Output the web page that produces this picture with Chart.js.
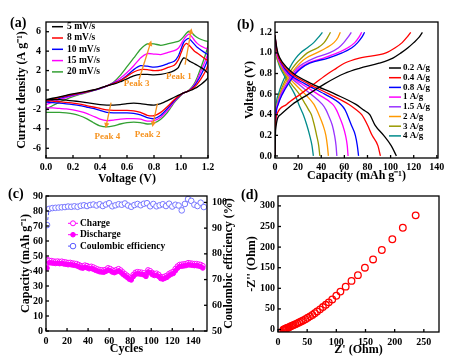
<!DOCTYPE html>
<html>
<head>
<meta charset="utf-8">
<title>Electrochemical performance</title>
<script src="https://cdn.jsdelivr.net/npm/chart.js@4.4.1/dist/chart.umd.min.js"></script>
<style>
  html, body { margin: 0; padding: 0; background: #fff; }
  #page { position: relative; width: 472px; height: 363px; overflow: hidden; }
  #page canvas { position: absolute; }
  .tag { position: absolute; font: bold 14px "Liberation Serif", "Times New Roman", serif; line-height: 16px; color: #000; }
</style>
</head>
<body>
<div id="page">
  <canvas id="cv" width="236" height="186" style="left:0;top:0"></canvas>
  <canvas id="gcd" width="236" height="183" style="left:236px;top:0"></canvas>
  <canvas id="cyc" width="236" height="183" style="left:0;top:180px"></canvas>
  <canvas id="eis" width="236" height="183" style="left:236px;top:180px"></canvas>
  <div class="tag" style="left:10px;top:15px">(a)</div>
  <div class="tag" style="left:237px;top:17px">(b)</div>
  <div class="tag" style="left:8px;top:186px">(c)</div>
  <div class="tag" style="left:241px;top:187px">(d)</div>
</div>
<script>
// ---- (a) cyclic voltammetry: anodic sweep 0 -> 1.2 V, then cathodic 1.2 -> 0 V
const cvVoltage = [0,0.05,0.1,0.15,0.2,0.25,0.3,0.35,0.4,0.45,0.5,0.55,0.6,0.65,0.7,0.75,0.8,0.85,0.9,0.95,0.98,1.0,1.02,1.04,1.06,1.08,1.1,1.12,1.15,1.18,1.2,
  1.2,1.18,1.15,1.12,1.1,1.08,1.06,1.04,1.02,1.0,0.95,0.9,0.85,0.8,0.75,0.7,0.65,0.6,0.55,0.5,0.45,0.4,0.35,0.3,0.25,0.2,0.15,0.1,0.05,0];
const cv5 = [-1.0,-0.85,-0.7,-0.55,-0.4,-0.28,-0.15,0.0,0.2,0.42,0.6,0.85,1.15,1.45,1.6,1.6,1.55,1.6,1.75,2.0,2.3,2.9,3.3,3.2,3.0,2.85,2.7,2.55,2.3,2.0,1.7,
  1.3,0.95,0.6,0.3,0.15,0.0,-0.1,-0.2,-0.3,-0.42,-0.75,-1.1,-1.4,-1.55,-1.5,-1.4,-1.35,-1.4,-1.5,-1.55,-1.55,-1.5,-1.4,-1.3,-1.2,-1.12,-1.05,-1.0,-1.0,-1.0];
const cv8 = [-1.1,-0.93,-0.77,-0.6,-0.45,-0.32,-0.18,-0.02,0.18,0.42,0.65,0.95,1.4,1.85,2.1,2.1,2.0,2.05,2.3,2.55,3.1,3.8,4.5,4.8,4.6,4.3,4.0,3.8,3.5,3.2,3.0,
  2.6,1.9,1.2,0.6,0.3,0.1,-0.05,-0.2,-0.3,-0.45,-1.0,-1.7,-2.3,-2.65,-2.6,-2.3,-2.15,-2.1,-2.1,-2.1,-2.05,-1.9,-1.75,-1.6,-1.45,-1.35,-1.28,-1.2,-1.15,-1.1];
const cv10 = [-1.25,-1.05,-0.86,-0.68,-0.5,-0.35,-0.2,-0.03,0.17,0.42,0.7,1.0,1.5,2.1,2.5,2.45,2.35,2.45,2.7,2.95,3.5,4.2,4.9,5.2,5.3,5.0,4.7,4.4,4.1,3.8,3.6,
  3.2,2.5,1.6,0.85,0.45,0.15,-0.05,-0.2,-0.3,-0.48,-1.1,-1.9,-2.6,-2.95,-2.85,-2.55,-2.4,-2.35,-2.35,-2.35,-2.3,-2.1,-1.9,-1.75,-1.6,-1.5,-1.42,-1.35,-1.3,-1.25];
const cv15 = [-1.5,-1.25,-1.0,-0.78,-0.57,-0.4,-0.23,-0.05,0.15,0.4,0.75,1.2,1.8,2.5,3.3,3.75,3.7,3.65,3.85,4.05,4.3,4.7,5.2,5.55,5.75,5.5,5.1,4.8,4.5,4.3,4.2,
  3.8,3.0,2.0,1.05,0.55,0.2,-0.05,-0.2,-0.3,-0.5,-1.2,-2.1,-2.8,-3.15,-3.2,-3.0,-2.95,-2.95,-3.0,-3.1,-3.15,-3.0,-2.7,-2.4,-2.2,-2.05,-1.95,-1.9,-1.85,-1.85];
const cv20 = [-2.0,-1.6,-1.25,-0.95,-0.68,-0.46,-0.27,-0.07,0.15,0.4,0.8,1.5,2.4,3.3,4.2,4.75,4.75,4.6,4.75,4.9,5.0,5.2,5.5,5.85,6.05,5.9,5.6,5.4,5.2,5.05,5.0,
  4.6,3.6,2.4,1.3,0.7,0.3,0.0,-0.2,-0.3,-0.55,-1.3,-2.3,-3.0,-3.4,-3.5,-3.35,-3.3,-3.35,-3.5,-3.7,-3.8,-3.7,-3.35,-2.95,-2.65,-2.45,-2.35,-2.3,-2.3,-2.3];
const cvLabels = ['5 mV/s', '8 mV/s', '10 mV/s', '15 mV/s', '20 mV/s'];
const cvTicksX = [0, 0.2, 0.4, 0.6, 0.8, 1.0, 1.2];
const cvTicksY = [-6, -4, -2, 0, 2, 4, 6];
const peakNames = ['Peak 1', 'Peak 3', 'Peak 4', 'Peak 2'];

// ---- (b) charge / discharge curves, capacity read at fixed voltages
const chargeV = [0,0.25,0.4,0.5,0.6,0.7,0.8,0.85,0.9,0.95,1.0,1.05,1.1,1.15,1.2];
const dischargeV = [1.17,1.1,1.0,0.9,0.8,0.7,0.6,0.5,0.45,0.4,0.3,0.2,0.1,0];
const chg02 = [0,0.5,4.7,15,29,43,60,73,90,102,109,115,120,124.5,127.5];
const chg04 = [0,0.2,1.5,10,22,34,46,53,60,73,96,104,110,114,117.4];
const chg08 = [0,0.25,0.9,2.8,6.4,11.5,17.8,22.5,30,46,58,66.5,71.5,75,77.5];
const chg1 = [0,0.27,0.8,2.6,6.0,10.8,16.8,21,28,42,54,63,69,72.5,75];
const chg15 = [0,0.24,0.7,2.2,5.2,10,15.5,19,25,34,47,55,59.5,63,66];
const chg2 = [0,0.22,0.65,2.0,4.5,8.6,14,17.5,21.5,27,36,44.5,51,54.5,56.5];
const chg3 = [0,0.2,0.6,1.8,4.0,7.5,12,15,18.5,23,28,37,42.5,45.5,48];
const chg4 = [0,0.2,0.5,1.0,3.0,6.0,10,12.5,15,18,22,28,33.5,37.5,41];
const dis02 = [0,0.8,2.5,7,16,32,52,70,76,82,86.5,94,100.5,105];
const dis04 = [0,0.7,2,6,14,29,47,64,70,75,80,84,89,91.2];
const dis08 = [0,0.6,2,5.5,12,26,43,57,60.5,62.5,66,69.5,71.2,72.3];
const dis1 = [0,0.6,1.5,5,11,23,37,50,53,55,58.5,61,62.5,63.2];
const dis15 = [0,0.5,1.5,4.5,10,20,31,41,44,46,49.5,51.5,52.8,53.5];
const dis2 = [0,0.5,1.5,4,9,17,26,33.7,36,38,41.5,44,45.3,46.2];
const dis3 = [0,0.4,1,3.5,8,14,21,26.4,29,31.5,34,36,37.8,38.8];
const dis4 = [0,0.4,1,3,7,12,17,20.6,22.5,24.5,27.5,30,32,33.2];
const gcdLabels = ['0.2 A/g', '0.4 A/g', '0.8 A/g', '1 A/g', '1.5 A/g', '2 A/g', '3 A/g', '4 A/g'];
const gcdTicksX = [0, 20, 40, 60, 80, 100, 120, 140];
const gcdTicksY = [0, 0.2, 0.4, 0.6, 0.8, 1.0, 1.2];

// ---- (c) cycling at fixed rate
const capCycles = [1,3,5,7,9,11,13,15,17,19,21,23,25,27,29,31,33,35,37,39,41,43,45,47,49,51,53,55,57,59,61,63,65,67,69,71,73,75,77,79,81,83,85,87,89,91,93,95,97,99,101,103,105,107,109,111,113,115,117,119,121,123,125,127,129,131,133,135,137,139,141,143,145,147,149];
const chargeCap = [47.5,47.0,46.8,46.5,46.3,46.5,46.2,46.4,46.0,45.8,45.5,45.6,45.2,45.0,44.8,44.2,43.5,43.2,43.8,43.4,42.8,43.0,42.5,41.8,41.2,40.8,40.6,40.5,41.0,42.0,41.5,40.6,40.2,40.8,41.4,40.5,39.2,38.0,37.0,35.8,35.2,37.5,39.0,39.4,39.2,39.0,38.6,37.6,40.6,40.0,38.8,38.2,38.4,37.6,36.2,35.8,36.4,37.0,38.2,39.0,39.6,41.5,43.2,44.2,44.4,44.6,44.8,45.4,45.2,45.0,44.8,44.8,44.5,44.2,43.4];
const dischargeCap = [42.0,45.5,45.4,45.2,45.0,45.2,44.9,45.1,44.7,44.5,44.2,44.3,44.0,43.8,43.5,42.9,42.2,41.9,42.5,42.1,41.5,41.7,41.2,40.5,40.0,39.5,39.3,39.2,39.8,40.7,40.2,39.3,38.9,39.5,40.1,39.2,37.9,36.8,35.8,34.6,34.0,36.3,37.8,38.2,38.0,37.8,37.4,36.4,39.3,38.8,37.6,37.0,37.2,36.4,35.0,34.6,35.2,35.8,37.0,37.8,38.4,40.2,41.9,43.0,43.2,43.4,43.6,44.1,44.0,43.8,43.6,43.6,43.3,43.0,42.0];
const ceCycles = [1,3,6,9,12,15,18,21,24,27,30,33,36,39,42,45,48,51,54,57,60,63,66,69,72,75,78,81,84,87,90,93,96,99,102,105,108,111,114,117,120,123,126,129,132,135,138,141,144,147,150];
const ceValues = [91.2,97.5,97.8,97.9,98.0,98.1,98.2,98.4,98.3,98.5,98.3,98.7,98.9,98.6,99.0,99.2,98.8,99.3,98.6,99.2,99.7,98.5,98.9,99.3,99.1,99.6,98.8,98.3,99.0,99.4,98.9,99.5,99.7,98.5,99.4,98.5,98.9,99.3,98.6,99.5,98.4,99.1,98.8,96.9,99.4,101.3,100.6,99.1,98.6,99.9,98.2];
const cycTicksX = [0, 20, 40, 60, 80, 100, 120, 140];
const cycTicksY = [0, 10, 20, 30, 40, 50, 60, 70, 80, 90];
const cycTicksCE = [50, 60, 70, 80, 90, 100];

// ---- (d) Nyquist plot
const zReal = [9,10,11.5,13,14.5,16,18,20,22,24.5,27,30,33,36,39.5,43,47,51,55,59,63,67,72,77,82,87,93,100,107,116,126,137,149,163,178,196,214,236];
const zImag = [-1,0,1,2,3,4,5,6.5,8,9.5,11,13,15,17,19.5,22,25,28.5,32,35.5,39.5,44,49,54.5,60,66,73,82,92,104,118,132,150,170,193,219,247,277];
const eisTicksX = [0, 50, 100, 150, 200, 250];
const eisTicksY = [0, 50, 100, 150, 200, 250, 300];

const SERIF = '"Liberation Serif", "Times New Roman", serif';
const ORANGE = '#f6921e';
const tickFont = { family: SERIF, size: 10, weight: 'bold' };
const titleFont = { family: SERIF, size: 12, weight: 'bold' };

Chart.defaults.animation = false;
Chart.defaults.devicePixelRatio = 1;
Chart.defaults.color = '#000';
Chart.defaults.font.family = SERIF;
Chart.defaults.plugins.legend.display = false;
Chart.defaults.plugins.tooltip.enabled = false;

function linAxis(o) {
  return {
    type: 'linear',
    position: o.pos,
    min: o.min,
    max: o.max,
    grid: { display: false, drawTicks: false },
    border: { display: false },
    afterBuildTicks: s => { s.ticks = o.ticks.map(v => ({ value: v })); },
    afterFit: s => { if (s.isHorizontal()) s.height = o.size; else s.width = o.size; },
    ticks: { font: tickFont, color: '#000', padding: o.pad, maxRotation: 0, autoSkip: false,
             callback: o.fmt || (v => v) },
    title: o.title
      ? { display: true, text: o.title, font: titleFont, color: '#000', padding: o.titlePad }
      : { display: false }
  };
}

// box around the plot plus short inward ticks
const frame = {
  id: 'frame',
  afterDraw(chart) {
    const { ctx, chartArea: a } = chart;
    ctx.save();
    ctx.strokeStyle = '#000';
    ctx.lineWidth = 1.3;
    ctx.strokeRect(a.left, a.top, a.right - a.left, a.bottom - a.top);
    Object.values(chart.scales).forEach(s => {
      s.ticks.forEach(t => {
        const p = s.getPixelForValue(t.value);
        ctx.beginPath();
        if (s.position === 'bottom') { ctx.moveTo(p, a.bottom); ctx.lineTo(p, a.bottom - 3); }
        else if (s.position === 'left') { ctx.moveTo(a.left, p); ctx.lineTo(a.left + 3, p); }
        else { ctx.moveTo(a.right, p); ctx.lineTo(a.right - 3, p); }
        ctx.stroke();
      });
    });
    ctx.restore();
  }
};

function insideLegend(o) {
  return {
    id: 'insideLegend',
    afterDraw(chart) {
      const { ctx, chartArea: a } = chart;
      ctx.save();
      ctx.font = 'bold ' + o.size + 'px ' + SERIF;
      ctx.textBaseline = 'middle';
      let row = 0;
      chart.data.datasets.forEach(ds => {
        if (!ds.label) return;
        const x = a.left + o.left, y = a.top + o.top + row * o.gap;
        row++;
        ctx.strokeStyle = ds.borderColor;
        ctx.lineWidth = o.width;
        ctx.setLineDash(ds.borderDash || []);
        ctx.beginPath(); ctx.moveTo(x, y); ctx.lineTo(x + o.len, y); ctx.stroke();
        ctx.setLineDash([]);
        if (o.marker) {
          ctx.beginPath();
          ctx.arc(x + o.len / 2, y, ds.pointRadius, 0, Math.PI * 2);
          ctx.fillStyle = ds.pointBackgroundColor;
          ctx.fill();
          ctx.lineWidth = 1;
          ctx.stroke();
        }
        ctx.fillStyle = '#000';
        ctx.fillText(ds.label, x + o.len + o.space, y);
      });
      ctx.restore();
    }
  };
}

// orange arrows + peak names on the CV panel (data coordinates)
const peakArrows = [[1.03, 2.6, 1.078, 6.35], [0.69, 1.1, 0.78, 5.1], [0.482, -1.3, 0.442, -3.95], [0.825, -1.4, 0.788, -3.8]];
const peakLabelAt = [[0.984, 1.34], [0.671, 0.62], [0.455, -4.76], [0.753, -4.65]];
const peakMarks = {
  id: 'peakMarks',
  afterDatasetsDraw(chart) {
    const { ctx, scales: { x, y } } = chart;
    ctx.save();
    ctx.strokeStyle = ORANGE;
    ctx.fillStyle = ORANGE;
    ctx.lineWidth = 1.3;
    peakArrows.forEach(p => {
      const x0 = x.getPixelForValue(p[0]), y0 = y.getPixelForValue(p[1]);
      const x1 = x.getPixelForValue(p[2]), y1 = y.getPixelForValue(p[3]);
      const ang = Math.atan2(y1 - y0, x1 - x0);
      ctx.beginPath();
      ctx.moveTo(x0, y0);
      ctx.lineTo(x1 - 4 * Math.cos(ang), y1 - 4 * Math.sin(ang));
      ctx.stroke();
      ctx.beginPath();
      ctx.moveTo(x1, y1);
      ctx.lineTo(x1 - 6 * Math.cos(ang - 0.45), y1 - 6 * Math.sin(ang - 0.45));
      ctx.lineTo(x1 - 6 * Math.cos(ang + 0.45), y1 - 6 * Math.sin(ang + 0.45));
      ctx.closePath();
      ctx.fill();
    });
    ctx.font = 'bold 9px ' + SERIF;
    ctx.textAlign = 'center';
    ctx.textBaseline = 'middle';
    peakNames.forEach((n, i) => {
      ctx.fillText(n, x.getPixelForValue(peakLabelAt[i][0]), y.getPixelForValue(peakLabelAt[i][1]));
    });
    ctx.restore();
  }
};

// right-hand title of panel (c), reading bottom to top
const ceTitle = {
  id: 'ceTitle',
  afterDraw(chart) {
    const { ctx, chartArea: a } = chart;
    ctx.save();
    ctx.translate(chart.width - 7, (a.top + a.bottom) / 2);
    ctx.rotate(-Math.PI / 2);
    ctx.font = 'bold 12px ' + SERIF;
    ctx.fillStyle = '#000';
    ctx.textAlign = 'center';
    ctx.textBaseline = 'middle';
    ctx.fillText('Coulombic efficiency (%)', 0, 0);
    ctx.restore();
  }
};

// ---------- (a)
const cvSeries = [cv5, cv8, cv10, cv15, cv20];
const cvColors = ['#000000', '#ff0000', '#0000ff', '#ff00ff', '#33a033'];
new Chart(document.getElementById('cv'), {
  type: 'scatter',
  data: {
    datasets: cvSeries.map((cur, i) => ({
      label: cvLabels[i],
      data: cur.map((c, k) => ({ x: cvVoltage[k], y: c })),
      showLine: true,
      borderColor: cvColors[i],
      borderWidth: 1.3,
      pointRadius: 0,
      tension: 0.2
    }))
  },
  options: {
    responsive: false,
    layout: { padding: { top: 22, right: 28, left: 0, bottom: 0 } },
    scales: {
      x: linAxis({ pos: 'bottom', min: 0, max: 1.2, ticks: cvTicksX, size: 28, pad: 3,
                   fmt: v => v.toFixed(1), title: 'Voltage (V)', titlePad: { top: 0, bottom: 0 } }),
      y: linAxis({ pos: 'left', min: -7, max: 7, ticks: cvTicksY, size: 46, pad: 5,
                   title: 'Current density (A g\u207B\u00B9)', titlePad: { top: 15, bottom: 0 } })
    }
  },
  plugins: [frame, peakMarks, insideLegend({ left: 6, top: 4.7, gap: 11.3, len: 11, space: 4, size: 9.5, width: 1.5 })]
});

// ---------- (b)
const chgSets = [chg02, chg04, chg08, chg1, chg15, chg2, chg3, chg4];
const disSets = [dis02, dis04, dis08, dis1, dis15, dis2, dis3, dis4];
const gcdColors = ['#000000', '#ff0000', '#0000ff', '#ff00ff', '#9933ff', '#ff9900', '#999900', '#008b8b'];
const gcdData = [];
chgSets.forEach((cap, i) => {
  gcdData.push({
    label: gcdLabels[i],
    data: cap.map((q, k) => ({ x: q, y: chargeV[k] })),
    showLine: true, borderColor: gcdColors[i], borderWidth: 1.3, pointRadius: 0,
    cubicInterpolationMode: 'monotone'
  });
  gcdData.push({
    data: disSets[i].map((q, k) => ({ x: q, y: dischargeV[k] })),
    showLine: true, borderColor: gcdColors[i], borderWidth: 1.3, pointRadius: 0,
    cubicInterpolationMode: 'monotone'
  });
});
new Chart(document.getElementById('gcd'), {
  type: 'scatter',
  data: { datasets: gcdData },
  options: {
    responsive: false,
    layout: { padding: { top: 22, right: 34, left: 0, bottom: 0 } },
    scales: {
      x: linAxis({ pos: 'bottom', min: 0, max: 141, ticks: gcdTicksX, size: 25, pad: 3,
                   title: 'Capacity (mAh g\u207B\u00B9)', titlePad: { top: 0, bottom: 0 } }),
      y: linAxis({ pos: 'left', min: -0.02, max: 1.3, ticks: gcdTicksY, size: 39, pad: 3,
                   fmt: v => v.toFixed(1), title: 'Voltage (V)', titlePad: { top: 7, bottom: 0 } })
    }
  },
  plugins: [frame, insideLegend({ left: 114, top: 46, gap: 9.7, len: 12, space: 2, size: 9, width: 1.5 })]
});

// ---------- (c)
new Chart(document.getElementById('cyc'), {
  type: 'scatter',
  data: {
    datasets: [
      {
        label: 'Charge',
        data: chargeCap.map((v, k) => ({ x: capCycles[k], y: v })),
        showLine: true, borderColor: '#ff00ff', borderWidth: 1,
        pointRadius: 2.5, pointBorderWidth: 1, pointBackgroundColor: '#ffffff', pointBorderColor: '#ff00ff',
        order: 2
      },
      {
        label: 'Discharge',
        data: dischargeCap.map((v, k) => ({ x: capCycles[k], y: v })),
        showLine: true, borderColor: '#ff00ff', borderWidth: 1,
        pointRadius: 2.3, pointBorderWidth: 1, pointBackgroundColor: '#ff00ff', pointBorderColor: '#ff00ff',
        order: 1
      },
      {
        label: 'Coulombic efficiency',
        data: ceValues.map((v, k) => ({ x: ceCycles[k], y: v })),
        yAxisID: 'y2',
        showLine: true, borderColor: '#5a5aff', borderWidth: 1, borderDash: [3, 2],
        pointRadius: 2.8, pointBorderWidth: 1, pointBackgroundColor: '#ffffff', pointBorderColor: '#7777ff',
        order: 3
      }
    ]
  },
  options: {
    responsive: false,
    layout: { padding: { top: 16, right: 0, left: 0, bottom: 0 } },
    scales: {
      x: linAxis({ pos: 'bottom', min: 0, max: 153, ticks: cycTicksX, size: 32, pad: 4,
                   title: 'Cycles', titlePad: { top: 0, bottom: 7 } }),
      y: linAxis({ pos: 'left', min: 0, max: 90, ticks: cycTicksY, size: 46, pad: 3,
                   title: 'Capacity (mAh g\u207B\u00B9)', titlePad: { top: 19, bottom: 0 } }),
      y2: linAxis({ pos: 'right', min: 50, max: 102.5, ticks: cycTicksCE, size: 29, pad: 5 })
    }
  },
  plugins: [frame, ceTitle, insideLegend({ left: 22, top: 27.3, gap: 11.4, len: 10, space: 2, size: 9.5, width: 1, marker: true })]
});

// ---------- (d)
new Chart(document.getElementById('eis'), {
  type: 'scatter',
  data: {
    datasets: [{
      data: zReal.map((v, k) => ({ x: v, y: zImag[k] })),
      pointRadius: 3.3, pointBorderWidth: 1.3,
      pointBorderColor: '#ff0000', pointBackgroundColor: 'rgba(0,0,0,0)'
    }]
  },
  options: {
    responsive: false,
    layout: { padding: { top: 16, right: 33, left: 0, bottom: 0 } },
    scales: {
      x: linAxis({ pos: 'bottom', min: 0, max: 276, ticks: eisTicksX, size: 31, pad: 4,
                   title: "Z' (Ohm)", titlePad: { top: 0, bottom: 6 } }),
      y: linAxis({ pos: 'left', min: -6, max: 324, ticks: eisTicksY, size: 42, pad: 3,
                   title: "-Z'' (Ohm)", titlePad: { top: 9, bottom: 0 } })
    }
  },
  plugins: [frame]
});
</script>
</body>
</html>
